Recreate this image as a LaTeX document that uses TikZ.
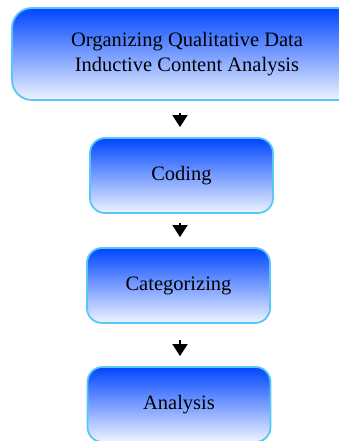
\documentclass[tikz,border=0pt]{standalone}
\usepackage{fontspec}
\setmainfont{Liberation Serif}
\usetikzlibrary{positioning,arrows.meta,calc}
\definecolor{boxtop}{RGB}{0,70,255}
\definecolor{boxbot}{RGB}{240,244,255}
\definecolor{boxline}{RGB}{85,200,245}
\tikzset{
stage/.style={
  draw=boxline, line width=1.8pt,
  rounded corners=15pt,
  top color=boxtop, bottom color=boxbot,
  align=center, font=\fontsize{20.5}{25}\selectfont,
  minimum width=183pt, minimum height=75pt
},
flow/.style={-{Triangle[length=12pt,width=15pt]}, line width=1.4pt, black},
}

\begin{document}
\begin{tikzpicture}[x=1pt,y=-1pt]
        \useasboundingbox (0,0) rectangle (339,441);
        \clip (0,0) rectangle (339,441);
        \node[stage, minimum width=350pt, minimum height=92pt, rounded corners=20pt] (org) at (187,54)
            {Organizing Qualitative Data\\Inductive Content Analysis};
        \node[stage] (coding) at (181.5,175.5) {Coding};
        \node[stage] (categ) at (178.5,285.5) {Categorizing};
        \node[stage] (analysis) at (179,404.5) {Analysis};

        \draw[flow, shorten <=12pt, shorten >=10pt] (org.south -| 180,0) -- (coding.north -| 180,0);
        \draw[flow, shorten <=9pt, shorten >=10pt] (coding.south -| 180,0) -- (categ.north -| 180,0);
        \draw[flow, shorten <=16pt, shorten >=10pt] (categ.south -| 180,0) -- (analysis.north -| 180,0);
\end{tikzpicture}
\end{document}
